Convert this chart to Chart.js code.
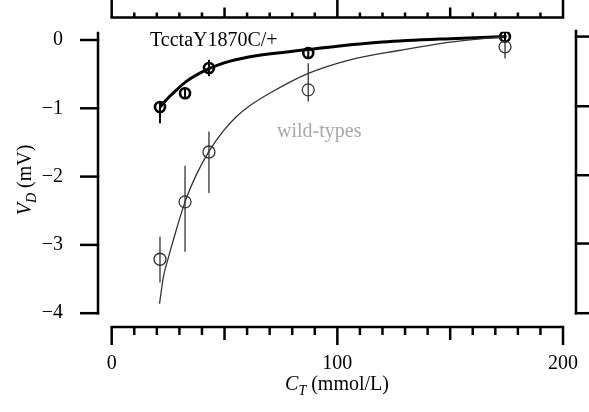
<!DOCTYPE html>
<html><head><meta charset="utf-8">
<script src="https://cdn.jsdelivr.net/npm/chart.js@4.4.0/dist/chart.umd.min.js"></script>
<style>html,body{margin:0;padding:0;background:#fff;}#wrap{width:589px;height:412px;}</style>
</head><body><div id="wrap"><canvas id="c" width="589" height="412"></canvas></div>
<script>
// ---- data ----
const concentrations = [21.4, 32.5, 43.1, 87.1, 174.3];          // C_T (mmol/L)
const mutantVD   = [-0.98, -0.78, -0.41, -0.19, 0.05];            // TcctaY1870C/+
const mutantHigh = [-0.90, -0.70, -0.29, -0.11, 0.11];
const mutantLow  = [-1.22, -0.86, -0.53, -0.27, -0.01];
const wildVD     = [-3.21, -2.37, -1.64, -0.73, -0.10];           // wild-types
const wildHigh   = [-2.88, -1.84, -1.34, -0.34, 0.00];
const wildLow    = [-3.55, -3.10, -2.24, -0.90, -0.27];
const mutantFitX = [21.4, 25, 28.8, 32.5, 43.1, 52.5, 64, 87, 100, 120, 150, 175];
const mutantFitY = [-0.98, -0.85, -0.73, -0.62, -0.42, -0.31, -0.23, -0.14, -0.09, -0.03, 0.02, 0.05];
const wildFitX   = [21.2, 22.9, 25, 27.3, 32.5, 37.7, 43.1, 49.5, 55, 61.3, 70, 87.1, 105.6, 127.8, 150, 174];
const wildFitY   = [-3.86, -3.47, -3.2, -2.93, -2.37, -1.96, -1.63, -1.33, -1.13, -0.96, -0.78, -0.49, -0.29, -0.15, -0.03, 0.05];
const xTickValues = [0, 100, 200];
const xTickLabels = ['0', '100', '200'];
const xMinorTicks = [0,10,20,30,40,50,60,70,80,90,100,110,120,130,140,150,160,170,180,190,200];
const xMidTicks = [50, 150];
const yTickValues = [0, -1, -2, -3, -4];
const yTickLabels = ['0', '\u22121', '\u22122', '\u22123', '\u22124'];
const rightTickValues = [0.05, -0.97, -1.98, -2.98];
const seriesNames = ['TcctaY1870C/+', 'wild-types'];

const SERIF = '"Liberation Serif", "Times New Roman", serif';
const pts = (xs, ys) => xs.map((x, i) => ({x: x, y: ys[i]}));

function richText(ctx, parts, x, baseline, align) {
  let total = 0;
  parts.forEach(p => { ctx.font = p.font; p.w = ctx.measureText(p.t).width; total += p.w; });
  let cx = align === 'center' ? x - total / 2 : x;
  parts.forEach(p => { ctx.font = p.font; ctx.fillText(p.t, cx, baseline + (p.dy || 0)); cx += p.w; });
}

const errorBars = {
  id: 'errorBars',
  afterDatasetsDraw(chart) {
    const {ctx, scales: {x, y}} = chart;
    const draw = (lo, hi, color, w) => {
      ctx.save(); ctx.strokeStyle = color; ctx.lineWidth = w;
      concentrations.forEach((c, i) => {
        const px = x.getPixelForValue(c);
        ctx.beginPath(); ctx.moveTo(px, y.getPixelForValue(lo[i])); ctx.lineTo(px, y.getPixelForValue(hi[i])); ctx.stroke();
      });
      ctx.restore();
    };
    draw(wildLow, wildHigh, '#333', 1.3);
    draw(mutantLow, mutantHigh, '#000', 2);
  }
};

const decor = {
  id: 'decor',
  afterDraw(chart) {
    const {ctx, chartArea: ca, scales: {x, y}} = chart;
    ctx.save();
    ctx.strokeStyle = '#000'; ctx.lineWidth = 2.5; ctx.lineCap = 'butt';
    const line = (x1, y1, x2, y2) => { ctx.beginPath(); ctx.moveTo(x1, y1); ctx.lineTo(x2, y2); ctx.stroke(); };
    // left y axis
    const yBot = y.getPixelForValue(-4);
    line(ca.left, ca.top, ca.left, yBot + 1.2);
    yTickValues.forEach(v => { const py = y.getPixelForValue(v); line(ca.left - 18, py, ca.left + 1.2, py); });
    // right axis (neighbouring panel)
    line(ca.right, ca.top - 2, ca.right, yBot + 1.2);
    rightTickValues.forEach(v => { const py = y.getPixelForValue(v); line(ca.right - 1.2, py, 589, py); });
    line(ca.right - 1.2, yBot, 589, yBot);
    // bottom x axis (offset)
    const xb = ca.bottom;
    const x0 = x.getPixelForValue(0), x200 = x.getPixelForValue(200);
    line(x0 - 1.2, xb, x200 + 1.2, xb);
    xMinorTicks.forEach(v => {
      const px = x.getPixelForValue(v);
      const len = xTickValues.includes(v) ? 18 : (xMidTicks.includes(v) ? 13 : 8);
      line(px, xb, px, xb + len);
    });
    // top axis (previous panel)
    const yt = 17.5;
    line(x0 - 1.2, yt, x200 + 1.2, yt);
    xMinorTicks.forEach(v => {
      const px = x.getPixelForValue(v);
      const len = xTickValues.includes(v) ? yt : (xMidTicks.includes(v) ? 10 : 5);
      line(px, yt, px, yt - len);
    });
    // texts
    ctx.fillStyle = '#000'; ctx.textBaseline = 'alphabetic';
    ctx.font = '20px ' + SERIF; ctx.textAlign = 'left';
    ctx.fillText(seriesNames[0], 150, 46);
    ctx.fillStyle = '#a8a8a8';
    ctx.fillText(seriesNames[1], 277, 137);
    ctx.fillStyle = '#000';
    richText(ctx, [
      {t: 'C', font: 'italic 20px ' + SERIF},
      {t: 'T', font: 'italic 14px ' + SERIF, dy: 5},
      {t: ' (mmol/L)', font: '20px ' + SERIF}
    ], 337, 390, 'center');
    ctx.save();
    ctx.translate(31, 180); ctx.rotate(-Math.PI / 2);
    richText(ctx, [
      {t: 'V', font: 'italic 20px ' + SERIF},
      {t: 'D', font: 'italic 14px ' + SERIF, dy: 5},
      {t: ' (mV)', font: '20px ' + SERIF}
    ], 0, 0, 'center');
    ctx.restore();
    ctx.restore();
  }
};

new Chart(document.getElementById('c'), {
  type: 'scatter',
  data: {
    datasets: [
      {type: 'line', data: pts(wildFitX, wildFitY), borderColor: '#333', borderWidth: 1.3, pointRadius: 0,
       cubicInterpolationMode: 'monotone', fill: false},
      {type: 'line', data: pts(mutantFitX, mutantFitY), borderColor: '#000', borderWidth: 3, pointRadius: 0,
       cubicInterpolationMode: 'monotone', fill: false},
      {label: seriesNames[1], data: pts(concentrations, wildVD), pointRadius: 6, borderWidth: 1.3,
       borderColor: '#333', backgroundColor: 'rgba(0,0,0,0)'},
      {label: seriesNames[0], data: pts(concentrations, mutantVD), pointRadius: 5, borderWidth: 2.6,
       borderColor: '#000', backgroundColor: 'rgba(0,0,0,0)'}
    ]
  },
  options: {
    responsive: false, animation: false, devicePixelRatio: 1,
    layout: {padding: {left: 0, right: 13, top: 31.7, bottom: 0}},
    plugins: {legend: {display: false}, tooltip: {enabled: false}},
    scales: {
      x: {
        type: 'linear', min: -6.07, max: 205.76,
        grid: {display: false}, border: {display: false},
        afterBuildTicks: s => { s.ticks = xTickValues.map(v => ({value: v})); },
        afterFit: s => { s.height = 85; s.paddingLeft = 0; s.paddingRight = 0; s.paddingTop = 0; s.paddingBottom = 0; },
        ticks: {font: {family: SERIF, size: 20}, color: '#000', padding: 17, maxRotation: 0, autoSkip: false,
                callback: v => xTickLabels[xTickValues.indexOf(v)]}
      },
      y: {
        type: 'linear', min: -4.202, max: 0.1215,
        grid: {display: false}, border: {display: false},
        afterBuildTicks: s => { s.ticks = yTickValues.map(v => ({value: v})); },
        afterFit: s => { s.width = 98; s.paddingLeft = 0; s.paddingRight = 0; s.paddingTop = 0; s.paddingBottom = 0; },
        ticks: {font: {family: SERIF, size: 20}, color: '#000', padding: 27, autoSkip: false,
                callback: v => yTickLabels[yTickValues.indexOf(v)]}
      }
    }
  },
  plugins: [errorBars, decor]
});
</script>
</body></html>
